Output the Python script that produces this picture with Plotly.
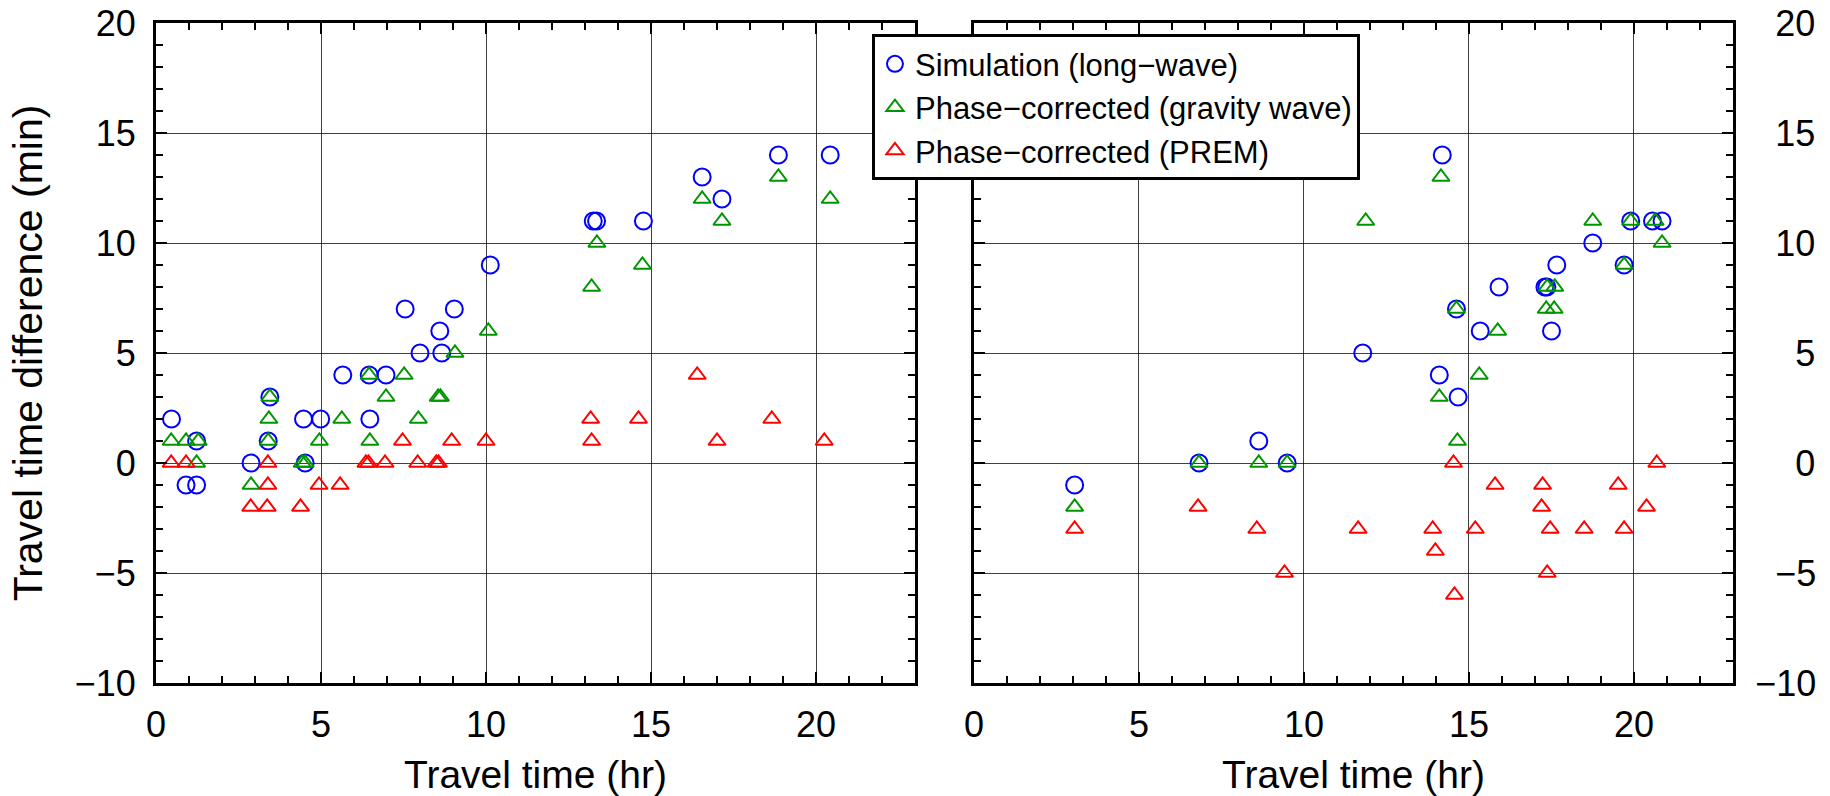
import plotly.graph_objects as go

# ---------------- data ----------------
# Left panel
L_sim_x = [0.47, 0.91, 1.23, 1.23, 2.88, 3.40, 3.45, 4.47, 4.52, 4.99, 5.66, 6.46, 6.48, 6.97,
           7.55, 8.0, 8.6, 8.66, 9.04, 10.13, 13.25, 13.35, 14.77, 16.55, 17.15, 18.86, 20.43]
L_sim_y = [2, -1, 1, -1, 0, 1, 3, 2, 0, 2, 4, 4, 2, 4, 7, 5, 6, 5, 7, 9, 11, 11, 11, 13, 12, 14, 14]

L_grav_x = [0.46, 0.91, 1.28, 1.23, 2.88, 3.42, 3.45, 3.40, 4.43, 4.52, 4.95, 5.63, 6.46, 6.48,
            6.97, 7.52, 7.95, 8.55, 8.62, 9.06, 10.07, 13.2, 13.36, 14.74, 16.55, 17.15, 18.86, 20.43]
L_grav_y = [1, 1, 1, 0, -1, 2, 3, 1, 0, 0, 1, 2, 4, 1, 3, 4, 2, 3, 3, 5, 6, 8, 10, 9, 12, 11, 13, 12]

L_prem_x = [0.46, 0.91, 2.87, 3.37, 3.39, 3.39, 4.38, 4.94, 5.58, 6.36, 6.44, 6.94, 7.47, 7.93,
            8.49, 8.56, 8.96, 10.0, 13.17, 13.2, 14.62, 16.40, 17.0, 18.66, 20.25]
L_prem_y = [0, 0, -2, -2, 0, -1, -2, -1, -1, 0, 0, 0, 1, 0, 0, 0, 1, 1, 2, 1, 2, 4, 1, 2, 1]

# Right panel
R_sim_x = [3.05, 6.82, 8.63, 9.49, 11.78, 14.10, 14.19, 14.62, 14.67, 15.34, 15.91, 17.30, 17.36,
           17.5, 17.66, 18.75, 19.70, 19.90, 20.56, 20.85]
R_sim_y = [-1, 0, 1, 0, 5, 4, 14, 7, 3, 6, 8, 8, 8, 6, 9, 10, 9, 11, 11, 11]

R_grav_x = [3.05, 6.82, 8.63, 9.49, 11.87, 14.10, 14.15, 14.62, 14.65, 15.31, 15.87, 17.34, 17.37,
            17.58, 17.6, 18.75, 19.70, 19.90, 20.64, 20.85]
R_grav_y = [-2, 0, 0, 0, 11, 3, 13, 7, 1, 4, 6, 7, 8, 7, 8, 11, 9, 11, 11, 10]

R_prem_x = [3.05, 6.79, 8.57, 9.41, 11.64, 13.90, 13.98, 14.53, 14.56, 15.19, 15.79, 17.20, 17.23,
            17.37, 17.46, 18.49, 19.52, 19.70, 20.38, 20.69]
R_prem_y = [-3, -2, -3, -5, -3, -3, -4, 0, -6, -3, -1, -2, -1, -5, -3, -3, -1, -3, -2, 0]

x_ticks = [0, 5, 10, 15, 20]
y_ticks = [-10, -5, 0, 5, 10, 15, 20]
FS = "\u2007"
y_ticktext_right = [u"\u221210", FS + u"\u22125", FS + FS + "0", FS + FS + "5", FS + "10", FS + "15", FS + "20"]

names = ["Simulation (long\u2212wave)", "Phase\u2212corrected (gravity wave)", "Phase\u2212corrected (PREM)"]
colors = ["rgb(0,0,255)", "rgb(0,150,0)", "rgb(255,0,0)"]
symbols = ["circle-open", "triangle-up-open", "triangle-up-open"]
sizes = [17, 15, 15]

FONT = "Liberation Sans, Arial, Helvetica, sans-serif"

fig = go.Figure()

panels = [
    ("x", "y", [(L_sim_x, L_sim_y), (L_grav_x, L_grav_y), (L_prem_x, L_prem_y)], True),
    ("x2", "y2", [(R_sim_x, R_sim_y), (R_grav_x, R_grav_y), (R_prem_x, R_prem_y)], False),
]
for xa, ya, series, leg in panels:
    for i, (xs, ys) in enumerate(series):
        fig.add_trace(go.Scatter(
            x=xs, y=ys, mode="markers", name=names[i], xaxis=xa, yaxis=ya,
            showlegend=leg,
            marker=dict(symbol=symbols[i], size=sizes[i], color=colors[i],
                        line=dict(width=2, color=colors[i])),
        ))

# empty helper traces so the bottom minor-tick overlay axes get drawn
for xa, ya in [("x3", "y"), ("x4", "y2")]:
    fig.add_trace(go.Scatter(x=[], y=[], mode="markers", xaxis=xa, yaxis=ya,
                             showlegend=False, hoverinfo="skip"))

grid = "rgba(0,0,0,0.75)"
MINLEN = 7
minor_x = dict(dtick=1, tick0=0, ticks="inside", ticklen=MINLEN,
               tickwidth=2, tickcolor="black", showgrid=False)
minor_y = dict(dtick=1, tick0=0, ticks="inside", ticklen=MINLEN,
               tickwidth=2, tickcolor="black", showgrid=False)
common_x = dict(
    range=[0, 23], tickmode="linear", tick0=0, dtick=5, showgrid=True, gridcolor=grid, gridwidth=1.3,
    zeroline=False, ticks="inside", ticklen=11, tickwidth=2, tickcolor="black",
    showline=True, linewidth=3, linecolor="black", mirror="ticks",
    minor=minor_x,
    tickfont=dict(size=36, color="black", family=FONT),
    title=dict(text="Travel time (hr)", font=dict(size=39, color="black", family=FONT), standoff=22),
    ticklabelstandoff=8,
)
overlay_x = dict(
    range=[0, 23], tickmode="linear", tick0=0, dtick=1, showgrid=False, zeroline=False,
    ticks="inside", ticklen=MINLEN, tickwidth=2, tickcolor="black",
    showline=False, showticklabels=False, side="bottom",
)
common_y = dict(
    range=[-10, 20], showgrid=True, gridcolor=grid, gridwidth=1.3,
    zeroline=False, ticks="inside", ticklen=11, tickwidth=2, tickcolor="black",
    showline=True, linewidth=3, linecolor="black", mirror="ticks",
    minor=minor_y,
    tickfont=dict(size=36, color="black", family=FONT),
)

fig.update_layout(
    width=1830, height=796,
    margin=dict(l=156, r=97, t=23, b=113, autoexpand=False),
    paper_bgcolor="white", plot_bgcolor="white",
    font=dict(family=FONT, color="black"),
    xaxis=dict(domain=[0, 0.4813], anchor="y", **common_x),
    xaxis2=dict(domain=[0.5187, 1], anchor="y2", **common_x),
    xaxis3=dict(domain=[0, 0.4813], anchor="y", overlaying="x", **overlay_x),
    xaxis4=dict(domain=[0.5187, 1], anchor="y2", overlaying="x2", **overlay_x),
    yaxis=dict(domain=[0, 1], anchor="x", side="left", ticklabelstandoff=10,
               tickmode="linear", tick0=0, dtick=5,
               title=dict(text="Travel time difference (min)",
                          font=dict(size=41, color="black", family=FONT), standoff=20),
               **common_y),
    yaxis2=dict(domain=[0, 1], anchor="x2", side="right", ticklabelstandoff=12,
                tickmode="array", tickvals=y_ticks, ticktext=y_ticktext_right, **common_y),
    legend=dict(x=0.454, y=0.983, xanchor="left", yanchor="top",
                bgcolor="white", bordercolor="black", borderwidth=3,
                font=dict(size=31, color="black", family=FONT),
                tracegroupgap=0),
    showlegend=True,
)

fig.write_html("out.html")
